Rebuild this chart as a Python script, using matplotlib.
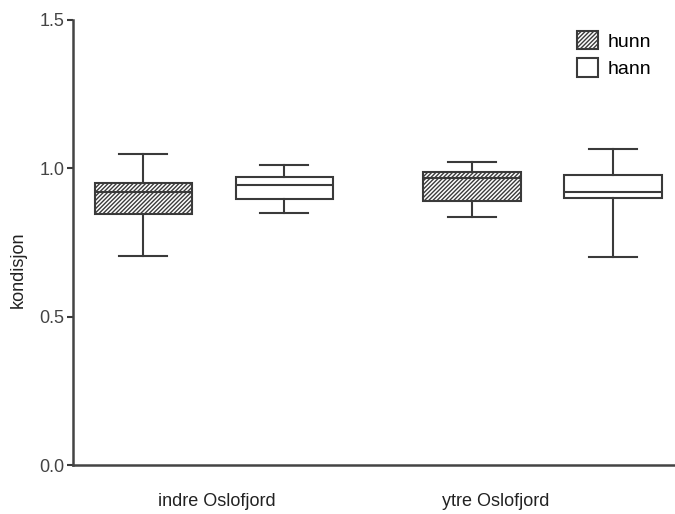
import matplotlib.pyplot as plt
from matplotlib.patches import Patch

plt.rcParams['font.family'] = ['Liberation Sans', 'DejaVu Sans']
plt.rcParams['hatch.linewidth'] = 1.0

# data
groups = ['indre Oslofjord', 'ytre Oslofjord']
series = ['hunn', 'hann']
whislo = [0.703, 0.848, 0.835, 0.702]
q1 = [0.846, 0.897, 0.890, 0.899]
med = [0.920, 0.944, 0.966, 0.921]
q3 = [0.950, 0.972, 0.989, 0.977]
whishi = [1.049, 1.011, 1.022, 1.064]

positions = [0, 1, 2.33, 3.33]
label_pos = [0.52, 2.5]
hatched = [True, False, True, False]

stats = []
for i in range(4):
    stats.append(dict(whislo=whislo[i], q1=q1[i], med=med[i], q3=q3[i],
                      whishi=whishi[i], fliers=[]))

fig = plt.figure(figsize=(6.75, 5.14), dpi=100)
ax = fig.add_axes([0.108, 0.0953, 0.892, 0.866])

edge = '#3a3a3a'
bp = ax.bxp(stats, positions=positions, widths=0.69, patch_artist=True,
            showfliers=False,
            boxprops=dict(linewidth=1.5, edgecolor=edge),
            medianprops=dict(color=edge, linewidth=1.5),
            whiskerprops=dict(color=edge, linewidth=1.5),
            capprops=dict(color=edge, linewidth=1.5),
            capwidths=0.34)
for box, h in zip(bp['boxes'], hatched):
    box.set_facecolor('white')
    if h:
        box.set_hatch('////////')

ax.set_xlim(-0.5, 3.77)
ax.set_ylim(0, 1.5)
ax.set_yticks([0.0, 0.5, 1.0, 1.5])
ax.set_yticklabels(['0.0', '0.5', '1.0', '1.5'], fontsize=13, color='#444444')
ax.set_xticks(label_pos)
ax.set_xticklabels(groups, fontsize=13, color='#222222')
ax.tick_params(axis='x', length=0, pad=20)
ax.tick_params(axis='y', length=4, width=1.5, color=edge, pad=2)
for s in ['top', 'right']:
    ax.spines[s].set_visible(False)
for s in ['left', 'bottom']:
    ax.spines[s].set_linewidth(1.8)
    ax.spines[s].set_color('#444444')

fig.text(18 / 675, 1 - 270 / 514, 'kondisjon', rotation=90, fontsize=13,
         ha='center', va='center', color='#222222')

handles = [Patch(facecolor='white', edgecolor=edge, hatch='////////', linewidth=1.5),
           Patch(facecolor='white', edgecolor=edge, linewidth=1.5)]
ax.legend(handles, series, loc='upper right', bbox_to_anchor=(0.99, 1.015),
          frameon=False, fontsize=14, handlelength=1.1, handleheight=1.1,
          handletextpad=0.5, labelspacing=0.4)

fig.savefig('out.png', dpi=100)
